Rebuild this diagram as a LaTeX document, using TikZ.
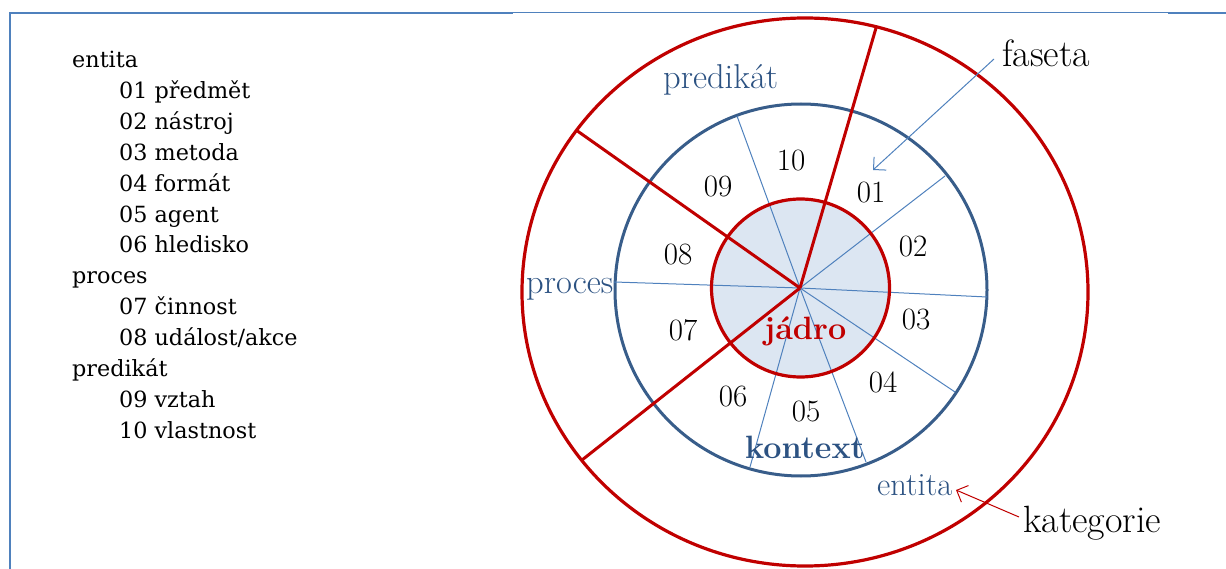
\documentclass[tikz,border=0pt]{standalone}
\usepackage{fontspec}
\newfontfamily\listfont{DejaVu Serif}
\usetikzlibrary{arrows.meta}
\definecolor{cred}{RGB}{192,0,0}
\definecolor{cblue}{RGB}{56,93,138}
\definecolor{ctext}{RGB}{44,82,130}
\definecolor{cspoke}{RGB}{79,129,189}
\definecolor{cfill}{RGB}{220,230,242}
\definecolor{cframe}{RGB}{79,129,189}
\begin{document}
\begin{tikzpicture}[x=1pt,y=-1pt,
  listtxt/.style={anchor=base west, inner sep=0pt, font=\listfont\fontsize{22.3}{30}\selectfont},
  numtxt/.style={inner sep=0pt, font=\fontsize{31}{36}\selectfont},
  cattxt/.style={anchor=base west, inner sep=0pt, text=ctext, font=\fontsize{34.5}{40}\selectfont},
  boldtxt/.style={anchor=base west, inner sep=0pt, font=\bfseries\fontsize{32.3}{38}\selectfont},
  notetxt/.style={anchor=base west, inner sep=0pt, font=\fontsize{38}{44}\selectfont},
  redline/.style={draw=cred, line width=3.2pt},
  blueline/.style={draw=cblue, line width=3pt},
  spoke/.style={draw=cspoke, line width=1pt},
  redspoke/.style={draw=cred, line width=3pt},
  framethick/.style={draw=cframe, line width=2pt},
  framethin/.style={draw=cframe, line width=1pt},
  pointer/.style={line width=1pt, -{Straight Barb[length=9pt,width=18pt,line width=1pt]}}
]
\useasboundingbox (0,0) rectangle (1226,569);
% frame
\draw[framethick] (10,569) -- (10,13) -- (513,13);
\draw[framethin] (513,13) -- (1168,13);
\draw[framethick] (1168,13) -- (1226,13);
% left list
\node[listtxt] (l0) at (72,68) {entita};
\node[listtxt] (l1) at (119,98.8) {01 předmět};
\node[listtxt] (l2) at (119,129.7) {02 nástroj};
\node[listtxt] (l3) at (119,160.5) {03 metoda};
\node[listtxt] (l4) at (119,191.3) {04 formát};
\node[listtxt] (l5) at (119,222.2) {05 agent};
\node[listtxt] (l6) at (119,253) {06 hledisko};
\node[listtxt] (l7) at (72,283.8) {proces};
\node[listtxt] (l8) at (119,314.6) {07 činnost};
\node[listtxt] (l9) at (119,345.5) {08 událost/akce};
\node[listtxt] (l10) at (72,376.3) {predikát};
\node[listtxt] (l11) at (119,407.2) {09 vztah};
\node[listtxt] (l12) at (119,438) {10 vlastnost};
% coordinates
\coordinate (c) at (800,288);
\coordinate (b1) at (737,116);
\coordinate (b2) at (945,176);
\coordinate (b3) at (614,282);
\coordinate (b4) at (987,297);
\coordinate (b5) at (955,392);
\coordinate (b6) at (866,462);
\coordinate (b7) at (750,467);
\coordinate (r1) at (876,28);
\coordinate (r2) at (576,130);
\coordinate (r3) at (582,460);
% circles
\draw[redline] (805,292) ellipse [x radius=283, y radius=274];
\draw[blueline] (801,290) circle [radius=186];
\fill[cfill] (800.5,288) circle [radius=89];
\foreach \p in {b1,b2,b3,b4,b5,b6,b7} \draw[spoke] (c) -- (\p);
\draw[redline] (800.5,288) circle [radius=89];
\foreach \p in {r1,r2,r3} \draw[redspoke] (c) -- (\p);
% numbers
\node[numtxt] (n10) at (791,161) {10};
\node[numtxt] (n09) at (718,187) {09};
\node[numtxt] (n01) at (871,193) {01};
\node[numtxt] (n08) at (678,255) {08};
\node[numtxt] (n02) at (913,247) {02};
\node[numtxt] (n03) at (916,320) {03};
\node[numtxt] (n07) at (683,330) {07};
\node[numtxt] (n04) at (883,382) {04};
\node[numtxt] (n06) at (733,397) {06};
\node[numtxt] (n05) at (806,412) {05};
% labels
\node[cattxt] (pred) at (663,89) {predikát};
\node[cattxt] (proc) at (526,294) {proces};
\node[cattxt, font=\fontsize{32.5}{38}\selectfont] (ent) at (877,495) {entita};
\node[boldtxt, text=cred] (jadro) at (764,339) {jádro};
\node[boldtxt, text=ctext] (kontext) at (745,458) {kontext};
\node[notetxt] (faseta) at (1002,67) {faseta};
\node[notetxt] (kat) at (1023,532) {kategorie};
% pointers
\coordinate (fa1) at (994,59);
\coordinate (fa2) at (873,170);
\draw[pointer, cspoke] (fa1) -- (fa2);
\coordinate (ka1) at (1019,517);
\coordinate (ka2) at (956,490);
\draw[pointer, cred] (ka1) -- (ka2);
\end{tikzpicture}
\end{document}
